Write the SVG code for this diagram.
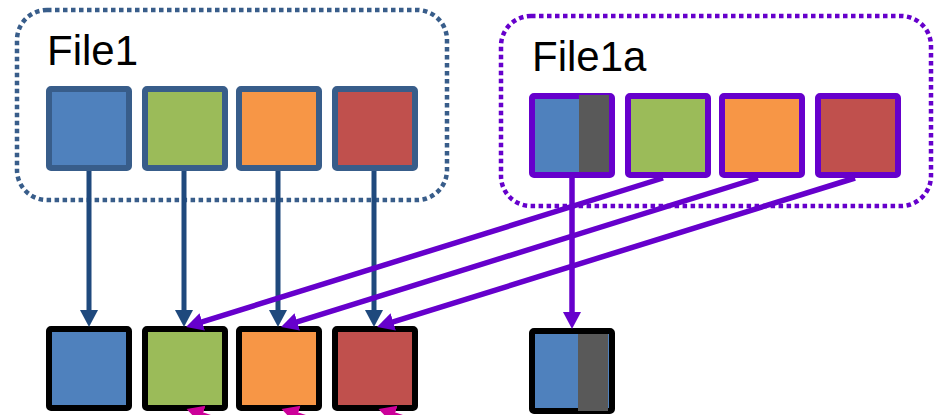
<svg xmlns="http://www.w3.org/2000/svg" width="935" height="415" viewBox="0 0 935 415">
<style>
.frame{fill:none;stroke-width:4.5;stroke-dasharray:4.5 3.5}
.f1{stroke:#385D8A}
.f1a{stroke:#6600CC}
.lbl{font-family:"Liberation Sans",Arial,sans-serif;font-size:42px;fill:#000}
.sq{stroke-width:6}
.sb{stroke:#385D8A}
.sp{stroke:#6600CC}
.sk{stroke:#000}
.blue{fill:#4F81BD}.green{fill:#9BBB59}.orange{fill:#F79646}.red{fill:#C0504D}.gray{fill:#595959}
.cb{stroke:#1F497D;stroke-width:5;fill:none;marker-end:url(#ab)}
.cp{stroke:#6600CC;stroke-width:5.5;fill:none;marker-end:url(#ap)}
.cm{stroke:#CC0099;stroke-width:4;fill:none;marker-end:url(#am)}
</style>
<defs>
<marker id="ab" markerUnits="userSpaceOnUse" markerWidth="19" markerHeight="19" refX="6" refY="9" orient="auto"><path d="M0,0 L17,9 L0,18 z" fill="#1F497D"/></marker>
<marker id="ap" markerUnits="userSpaceOnUse" markerWidth="19" markerHeight="19" refX="6" refY="9" orient="auto"><path d="M0,0 L17,9 L0,18 z" fill="#6600CC"/></marker>
<marker id="am" markerUnits="userSpaceOnUse" markerWidth="19" markerHeight="19" refX="6" refY="9" orient="auto"><path d="M0,0 L17,9 L0,18 z" fill="#CC0099"/></marker>
</defs>
<g id="file1">
<rect class="frame f1" x="17" y="10" width="430" height="190" rx="30"/>
<text class="lbl" x="47" y="65">File1</text>
</g>
<g id="file1a">
<rect class="frame f1a" x="501" y="16" width="430" height="190" rx="30"/>
<text class="lbl" x="532" y="71">File1a</text>
</g>
<g id="f1-blue"><rect class="sq sb blue" x="49" y="89" width="80" height="79" rx="2"/></g>
<g id="f1-green"><rect class="sq sb green" x="145" y="89" width="80" height="79" rx="2"/></g>
<g id="f1-orange"><rect class="sq sb orange" x="239" y="89" width="80" height="79" rx="2"/></g>
<g id="f1-red"><rect class="sq sb red" x="335" y="89" width="80" height="79" rx="2"/></g>
<g id="f1a-blue"><rect class="sq sp blue" x="532" y="96" width="80" height="79" rx="2"/><rect class="gray" x="579" y="95" width="30" height="77"/></g>
<g id="f1a-green"><rect class="sq sp green" x="628" y="96" width="80" height="79" rx="2"/></g>
<g id="f1a-orange"><rect class="sq sp orange" x="722" y="96" width="80" height="79" rx="2"/></g>
<g id="f1a-red"><rect class="sq sp red" x="818" y="96" width="80" height="79" rx="2"/></g>
<g id="out-blue"><rect class="sq sk blue" x="49" y="329" width="80" height="79" rx="2"/></g>
<g id="out-green"><rect class="sq sk green" x="145" y="329" width="80" height="79" rx="2"/></g>
<g id="out-orange"><rect class="sq sk orange" x="239" y="329" width="80" height="79" rx="2"/></g>
<g id="out-red"><rect class="sq sk red" x="335" y="329" width="80" height="79" rx="2"/></g>
<g id="out-split"><rect class="sq sk blue" x="532" y="331" width="80" height="80" rx="2"/><rect class="gray" x="578" y="334" width="30" height="77"/></g>
<g id="connectors">
<line class="cb" x1="89" y1="171" x2="89" y2="316"/>
<line class="cb" x1="184" y1="171" x2="184" y2="316"/>
<line class="cb" x1="278" y1="171" x2="278" y2="316"/>
<line class="cb" x1="374" y1="171" x2="374" y2="316"/>
<line class="cp" x1="572" y1="178" x2="572" y2="318"/>
<line class="cp" x1="663" y1="178" x2="196.5" y2="323.7"/>
<line class="cp" x1="758" y1="178" x2="291.5" y2="323.7"/>
<line class="cp" x1="855" y1="178" x2="387.5" y2="323.7"/>
<line class="cm" x1="262" y1="434" x2="197" y2="412.5"/>
<line class="cm" x1="357" y1="434" x2="292" y2="412.5"/>
<line class="cm" x1="454" y1="434" x2="389" y2="412.5"/>
</g>
</svg>
